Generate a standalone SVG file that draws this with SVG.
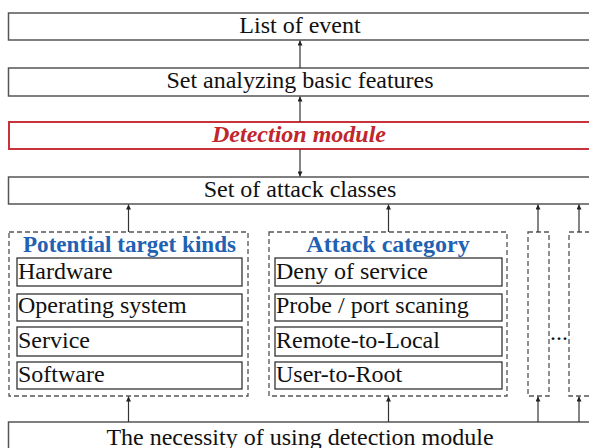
<svg xmlns="http://www.w3.org/2000/svg" width="589" height="448" viewBox="0 0 589 448">
<style>
text{font-family:"Liberation Serif","Times New Roman",serif;font-size:24px;fill:#111}
.c{text-anchor:middle}
.box{fill:#fff;stroke:#555;stroke-width:1.5}
.inner{fill:#fff;stroke:#333;stroke-width:1.3}
.dash{fill:none;stroke:#555;stroke-width:1.3;stroke-dasharray:5 3}
.red{fill:#fff;stroke:#c8323a;stroke-width:2}
.title{font-weight:bold;fill:#1f62b3}
.det{font-weight:bold;font-style:italic;fill:#c0272d}
.conn line{stroke:#333;stroke-width:1.2;marker-end:url(#ah)}
</style>
<defs>
<marker id="ah" viewBox="0 0 8 8" refX="8" refY="4" markerWidth="7" markerHeight="5" markerUnits="userSpaceOnUse" orient="auto">
<path d="M0,0 L8,4 L0,8 z" fill="#222"/>
</marker>
</defs>
<rect width="589" height="448" fill="#fff"/>
<g id="list-of-event"><rect class="box" x="8.5" y="13" width="600" height="27"/><text class="c" x="300" y="33">List of event</text></g>
<g id="set-analyzing"><rect class="box" x="8.5" y="68" width="600" height="28"/><text class="c" x="300" y="88">Set analyzing basic features</text></g>
<g id="detection-module"><rect class="red" x="9" y="122" width="600" height="27"/><text class="c det" x="299" y="142">Detection module</text></g>
<g id="attack-classes"><rect class="box" x="8.5" y="177" width="600" height="27"/><text class="c" x="300" y="197">Set of attack classes</text></g>
<g id="potential-target-kinds">
<rect class="dash" x="9" y="232" width="239" height="164"/>
<text class="c title" x="129.5" y="252" textLength="213" lengthAdjust="spacingAndGlyphs">Potential target kinds</text>
<rect class="inner" x="17" y="258" width="225" height="28"/><text x="18" y="279">Hardware</text>
<rect class="inner" x="17" y="294" width="225" height="27"/><text x="18" y="313">Operating system</text>
<rect class="inner" x="17" y="327" width="225" height="29"/><text x="18" y="348">Service</text>
<rect class="inner" x="17" y="362" width="225" height="27"/><text x="18" y="382">Software</text>
</g>
<g id="attack-category">
<rect class="dash" x="269" y="232" width="238" height="164"/>
<text class="c title" x="388" y="252">Attack category</text>
<rect class="inner" x="275" y="258" width="227" height="28"/><text x="276" y="279">Deny of service</text>
<rect class="inner" x="275" y="294" width="227" height="27"/><text x="276" y="313">Probe / port scaning</text>
<rect class="inner" x="275" y="327" width="227" height="29"/><text x="276" y="348">Remote-to-Local</text>
<rect class="inner" x="275" y="362" width="227" height="27"/><text x="276" y="382">User-to-Root</text>
</g>
<g id="group-3"><rect class="dash" x="528" y="232" width="21" height="164"/></g>
<g id="ellipsis"><text x="550" y="340">...</text></g>
<g id="group-4"><rect class="dash" x="569" y="232" width="40" height="164"/></g>
<g id="necessity"><rect class="box" x="8.5" y="422" width="600" height="40"/><text class="c" x="300" y="445">The necessity of using detection module</text></g>
<g class="conn" id="connectors">
<line x1="300" y1="68" x2="300" y2="40.5"/>
<line x1="300" y1="122" x2="300" y2="96.5"/>
<line x1="300" y1="149" x2="300" y2="176.5"/>
<line x1="128.5" y1="232" x2="128.5" y2="204.5"/>
<line x1="388.5" y1="232" x2="388.5" y2="204.5"/>
<line x1="538" y1="232" x2="538" y2="204.5"/>
<line x1="579" y1="232" x2="579" y2="204.5"/>
<line x1="128.5" y1="422" x2="128.5" y2="396.5"/>
<line x1="388.5" y1="422" x2="388.5" y2="396.5"/>
<line x1="538" y1="422" x2="538" y2="396.5"/>
<line x1="579" y1="422" x2="579" y2="396.5"/>
</g>
</svg>
